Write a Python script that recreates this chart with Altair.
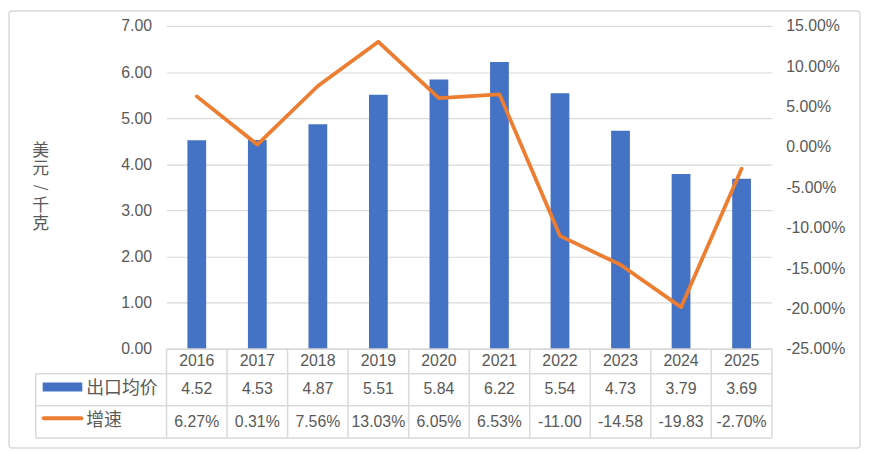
import altair as alt
import pandas as pd

years = ["2016", "2017", "2018", "2019", "2020", "2021", "2022", "2023", "2024", "2025"]
price = [4.52, 4.53, 4.87, 5.51, 5.84, 6.22, 5.54, 4.73, 3.79, 3.69]
growth = [6.27, 0.31, 7.56, 13.03, 6.05, 6.53, -11.00, -14.58, -19.83, -2.70]
growth_labels = ["6.27%", "0.31%", "7.56%", "13.03%", "6.05%", "6.53%",
                 "-11.00", "-14.58", "-19.83", "-2.70%"]
left_ticks = [0, 1, 2, 3, 4, 5, 6, 7]
right_ticks = [-0.25, -0.20, -0.15, -0.10, -0.05, 0.0, 0.05, 0.10, 0.15]
series_names = ["出口均价", "增速"]
y_title = "美元/千克"

df = pd.DataFrame({
    "year": years,
    "price": price,
    "growth": [g / 100 for g in growth],
    "plabel": [f"{p:.2f}" for p in price],
    "glabel": growth_labels,
})
one = pd.DataFrame({"k": [0]})

W, H = 611, 326
FONT = "Liberation Sans"
CJK = "Noto Sans CJK SC"
GRAY = "#595959"
LINEC = "#d9d9d9"
BLUE = "#4472C4"
ORANGE = "#ED7D31"

base = alt.Chart(df)
xenc = alt.X("year:N", sort=years,
             scale=alt.Scale(paddingInner=0, paddingOuter=0), axis=None)

bars = base.mark_bar(color=BLUE, width=alt.RelativeBandSize(0.31)).encode(
    x=xenc,
    y=alt.Y("price:Q",
            scale=alt.Scale(domain=[0, 7], nice=False),
            axis=alt.Axis(values=left_ticks, format=".2f", grid=True,
                          gridColor=LINEC, gridWidth=1.2, domain=False, ticks=False,
                          labelPadding=15, labelFontSize=16, labelColor=GRAY,
                          labelFont=FONT, title=None)),
)

line = base.mark_line(color=ORANGE, strokeWidth=3.8, strokeJoin="round",
                      strokeCap="round").encode(
    x=xenc,
    y=alt.Y("growth:Q",
            scale=alt.Scale(domain=[-0.25, 0.15], nice=False),
            axis=alt.Axis(orient="right", values=right_ticks, format=".2%",
                          labelExpr="replace(datum.label, '\u2212', '-')",
                          grid=False, domain=False, ticks=False,
                          labelPadding=14, labelFontSize=16, labelColor=GRAY,
                          labelFont=FONT, labelAlign="left", title=None)),
)

oc = alt.Chart(one)

def hrule(y, x0, x1):
    return oc.mark_rule(color=LINEC, strokeWidth=1.5).encode(
        x=alt.value(x0), x2=alt.value(x1), y=alt.value(y))

rules = [
    hrule(326, 0, W),
    hrule(351, -132, W),
    hrule(383.5, -132, W),
    hrule(416, -132, W),
    oc.mark_rule(color=LINEC, strokeWidth=1.5).encode(
        x=alt.value(-132), y=alt.value(351), y2=alt.value(416)),
]

vrules = base.mark_rule(color=LINEC, strokeWidth=1.5).encode(
    x=alt.X("year:N", sort=years, bandPosition=0,
            scale=alt.Scale(paddingInner=0, paddingOuter=0), axis=None),
    y=alt.value(326), y2=alt.value(416),
)
vlast = base.transform_filter(alt.datum.year == years[-1]).mark_rule(
    color=LINEC, strokeWidth=1.5).encode(
    x=alt.X("year:N", sort=years, bandPosition=1,
            scale=alt.Scale(paddingInner=0, paddingOuter=0), axis=None),
    y=alt.value(326), y2=alt.value(416),
)

def row_text(field, y):
    return base.mark_text(font=FONT, fontSize=16, color=GRAY,
                          baseline="middle", align="center").encode(
        x=xenc, y=alt.value(y), text=f"{field}:N")

t_year = row_text("year", 338)
t_price = row_text("plabel", 367)
t_growth = row_text("glabel", 400)

leg_rect = oc.mark_rect(color=BLUE).encode(
    x=alt.value(-125), x2=alt.value(-85), y=alt.value(360), y2=alt.value(369))
leg_line = oc.mark_rule(color=ORANGE, strokeWidth=4, strokeCap="round").encode(
    x=alt.value(-124), x2=alt.value(-86), y=alt.value(396))
leg_t1 = oc.mark_text(font=CJK, fontSize=18, color=GRAY, align="left",
                      baseline="middle").encode(
    x=alt.value(-81), y=alt.value(366.5), text=alt.value(series_names[0]))
leg_t2 = oc.mark_text(font=CJK, fontSize=18, color=GRAY, align="left",
                      baseline="middle").encode(
    x=alt.value(-81), y=alt.value(399), text=alt.value(series_names[1]))

title_layers = []
for i, c in enumerate(y_title):
    title_layers.append(
        oc.mark_text(font=CJK, fontSize=17 if c != "/" else 15, color=GRAY,
                     align="center", baseline="middle",
                     angle=90 if c == "/" else 0).encode(
            x=alt.value(-127), y=alt.value(126 + 18.6 * i), text=alt.value(c)))

border = oc.mark_rect(fillOpacity=0, stroke=LINEC, strokeWidth=1.5,
                      cornerRadius=3).encode(
    x=alt.value(-159), x2=alt.value(700), y=alt.value(-15), y2=alt.value(426))

chart = alt.layer(
    bars, line, border, *rules, vrules, vlast, t_year, t_price, t_growth,
    leg_rect, leg_line, leg_t1, leg_t2, *title_layers,
).resolve_scale(y="independent").properties(
    width=W, height=H,
    autosize=alt.AutoSizeParams(type="none"),
    padding={"left": 160, "top": 16, "right": 91, "bottom": 102},
    background="white",
).configure_view(stroke=None)

chart.save("out.html", embed_options={"renderer": "svg", "actions": False})
